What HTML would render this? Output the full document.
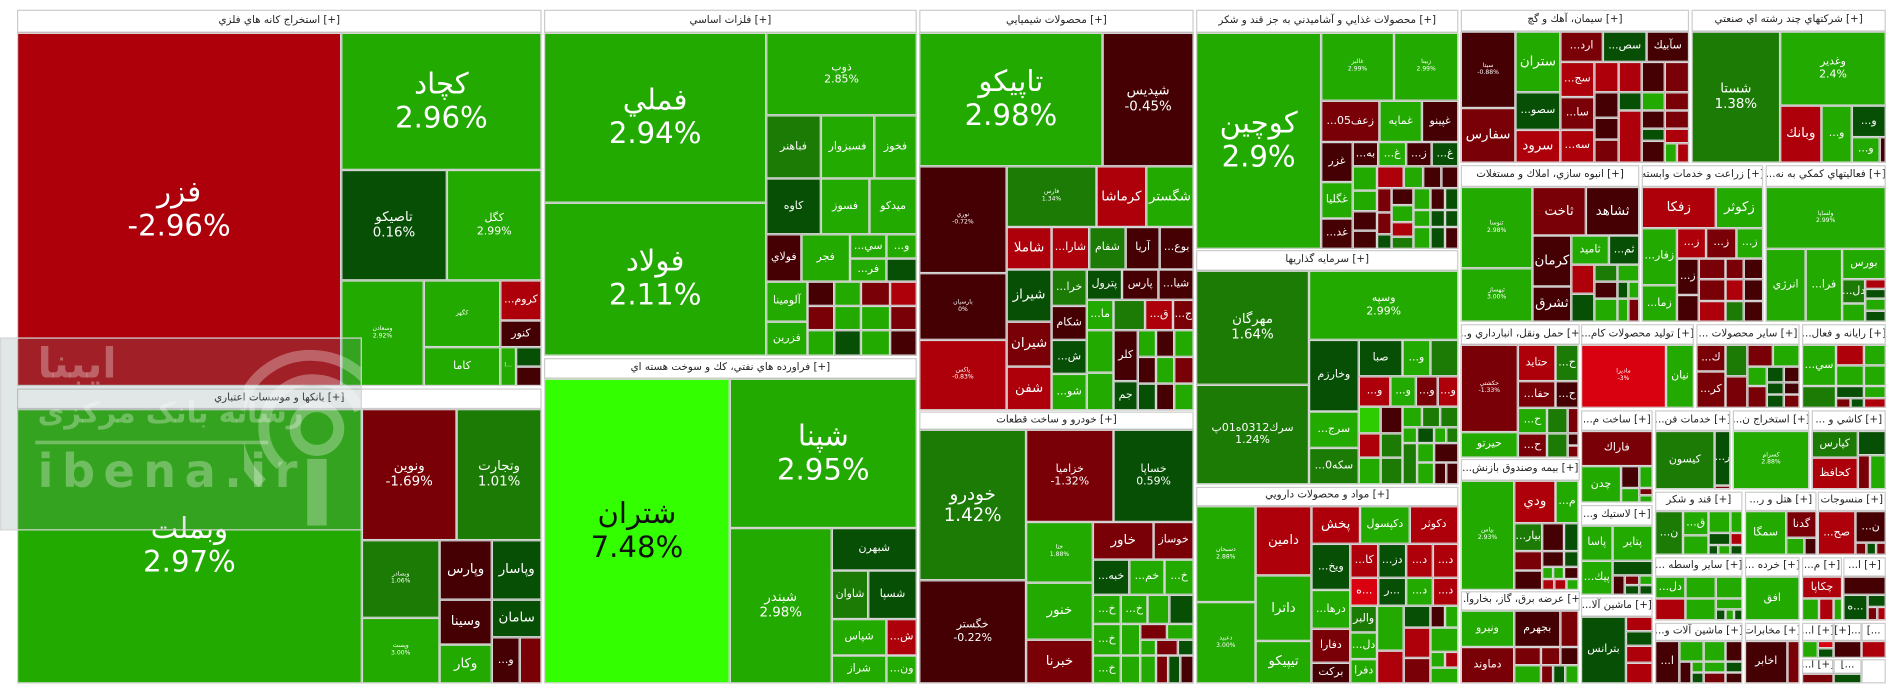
<!DOCTYPE html>
<html><head><meta charset="utf-8"><style>
html,body{margin:0;padding:0;background:#fff;width:1904px;height:698px;overflow:hidden}
#w{position:absolute;left:0;top:0;width:1568px;height:575px;transform:scale(1.21429,1.2139);transform-origin:0 0;font-family:"DejaVu Sans","Liberation Sans",sans-serif}
#w div{position:absolute;box-sizing:border-box;border:1px solid #d6d6d6;color:#fff;display:flex;align-items:center;justify-content:center;text-align:center;overflow:hidden;white-space:nowrap;line-height:1.15;font-size:7px}
#w div.h{background:#fff;color:#222;font-size:8.5px;border-color:#ccc}
.G{background:#22aa00}.M{background:#1b7b04}.D{background:#064f04}.R{background:#ad000a}.E{background:#7a0007}.K{background:#440003}.L{background:#33ff00}.P{background:#d9000f}.N{background:#2dcc00}
#w div.x1{font-size:24px}#w div.x2{font-size:15px}#w div.x3{font-size:11px}#w div.x4{font-size:9px}#w div.x5{font-size:5px}
#wm{position:absolute;left:0;top:278px;width:298px;height:159px;background:rgba(120,140,140,0.22);pointer-events:none}
#wm span{position:absolute;color:rgba(255,255,255,0.3);font-weight:bold;white-space:nowrap}
</style></head><body><div id="w">
<div class="h" style="left:14px;top:8px;width:432px;height:19px">استخراج کانه هاي فلزي [+]</div>
<div class="R x1" style="left:14px;top:27px;width:267px;height:291px">فزر<br>-2.96%</div>
<div class="G x1" style="left:281px;top:27px;width:165px;height:113px">کچاد<br>2.96%</div>
<div class="D x3" style="left:281px;top:140px;width:87px;height:91px">تاصیکو<br>0.16%</div>
<div class="G x4" style="left:368px;top:140px;width:78px;height:91px">کگل<br>2.99%</div>
<div class="G x5" style="left:281px;top:231px;width:68px;height:87px">وسعادن<br>2.92%</div>
<div class="G x5" style="left:349px;top:231px;width:63px;height:55px">کگهر</div>
<div class="R x4" style="left:412px;top:231px;width:34px;height:33px">...کروم</div>
<div class="K x4" style="left:412px;top:264px;width:34px;height:22px">کنور</div>
<div class="G x4" style="left:349px;top:286px;width:63px;height:32px">کاما</div>
<div class="G x5" style="left:412px;top:286px;width:13px;height:32px">ا...</div>
<div class="D" style="left:425px;top:286px;width:21px;height:16px"></div>
<div class="K" style="left:425px;top:302px;width:21px;height:16px"></div>
<div class="h" style="left:14px;top:320px;width:432px;height:17px">بانکها و موسسات اعتباري [+]</div>
<div class="G x1" style="left:14px;top:337px;width:284px;height:226px">وبملت<br>2.97%</div>
<div class="E x3" style="left:298px;top:337px;width:78px;height:108px">ونوین<br>-1.69%</div>
<div class="M x3" style="left:376px;top:337px;width:70px;height:108px">وتجارت<br>1.01%</div>
<div class="M x5" style="left:298px;top:445px;width:64px;height:64px">وبصادر<br>1.06%</div>
<div class="G x5" style="left:298px;top:509px;width:64px;height:54px">وپست<br>3.00%</div>
<div class="K x3" style="left:362px;top:445px;width:43px;height:49px">وپارس</div>
<div class="D x3" style="left:405px;top:445px;width:41px;height:49px">وپاسار</div>
<div class="K x3" style="left:362px;top:494px;width:43px;height:37px">وسینا</div>
<div class="D x3" style="left:405px;top:494px;width:41px;height:31px">سامان</div>
<div class="G x3" style="left:362px;top:531px;width:43px;height:32px">وکار</div>
<div class="K x4" style="left:405px;top:525px;width:23px;height:38px">...و</div>
<div class="E" style="left:428px;top:525px;width:18px;height:38px"></div>

<div class="h" style="left:448px;top:8px;width:307px;height:19px">فلزات اساسي [+]</div>
<div class="G x1" style="left:448px;top:27px;width:183px;height:140px">فملي<br>2.94%</div>
<div class="G x1" style="left:448px;top:167px;width:183px;height:126px">فولاد<br>2.11%</div>
<div class="G x4" style="left:631px;top:27px;width:124px;height:68px">ذوب<br>2.85%</div>
<div class="M x4" style="left:631px;top:95px;width:45px;height:52px">فباهنر</div>
<div class="G x4" style="left:676px;top:95px;width:44px;height:52px">فسبزوار</div>
<div class="G x4" style="left:720px;top:95px;width:35px;height:52px">فخوز</div>
<div class="D x4" style="left:631px;top:147px;width:45px;height:46px">کاوه</div>
<div class="G x4" style="left:676px;top:147px;width:40px;height:46px">فسوز</div>
<div class="G x4" style="left:716px;top:147px;width:39px;height:46px">میدکو</div>
<div class="K x4" style="left:631px;top:193px;width:29px;height:39px">فولاي</div>
<div class="G x4" style="left:660px;top:193px;width:40px;height:39px">فجر</div>
<div class="G x4" style="left:700px;top:193px;width:30px;height:20px">...سي</div>
<div class="G x4" style="left:730px;top:193px;width:25px;height:20px">...و</div>
<div class="G x4" style="left:700px;top:213px;width:30px;height:19px">...فر</div>
<div class="D" style="left:730px;top:213px;width:25px;height:19px"></div>
<div class="G x4" style="left:631px;top:232px;width:34px;height:33px">آلومينا</div>
<div class="G x4" style="left:631px;top:265px;width:34px;height:28px">فزرين</div>
<div class="K" style="left:665px;top:232px;width:22px;height:20px"></div><div class="G" style="left:687px;top:232px;width:22px;height:20px"></div><div class="E" style="left:709px;top:232px;width:24px;height:20px"></div><div class="R" style="left:733px;top:232px;width:22px;height:20px"></div>
<div class="E" style="left:665px;top:252px;width:22px;height:20px"></div><div class="G" style="left:687px;top:252px;width:22px;height:20px"></div><div class="G" style="left:709px;top:252px;width:24px;height:20px"></div><div class="E" style="left:733px;top:252px;width:22px;height:20px"></div>
<div class="G" style="left:665px;top:272px;width:22px;height:21px"></div><div class="D" style="left:687px;top:272px;width:22px;height:21px"></div><div class="G" style="left:709px;top:272px;width:24px;height:21px"></div><div class="K" style="left:733px;top:272px;width:22px;height:21px"></div>

<div class="h" style="left:448px;top:295px;width:307px;height:17px">فراورده هاي نفتي، كك و سوخت هسته اي [+]</div>
<div class="L x1" style="left:448px;top:312px;width:153px;height:251px;color:#111">شتران<br>7.48%</div>
<div class="G x1" style="left:601px;top:312px;width:154px;height:123px">شپنا<br>2.95%</div>
<div class="G x3" style="left:601px;top:435px;width:84px;height:128px">شبندر<br>2.98%</div>
<div class="D x4" style="left:685px;top:435px;width:70px;height:35px">شبهرن</div>
<div class="M x4" style="left:685px;top:470px;width:30px;height:40px">شاوان</div>
<div class="D x4" style="left:715px;top:470px;width:40px;height:40px">شسپا</div>
<div class="G x4" style="left:685px;top:510px;width:45px;height:30px">شپاس</div>
<div class="G x4" style="left:685px;top:540px;width:45px;height:23px">شراز</div>
<div class="R x4" style="left:730px;top:510px;width:25px;height:30px">...ش</div>
<div class="G x4" style="left:730px;top:540px;width:25px;height:23px">...ون</div>

<div class="h" style="left:757px;top:8px;width:226px;height:19px">محصولات شيميايي [+]</div>
<div class="G x1" style="left:757px;top:27px;width:151px;height:110px">تاپیکو<br>2.98%</div>
<div class="K x3" style="left:908px;top:27px;width:75px;height:110px">شپدیس<br>-0.45%</div>
<div class="K x5" style="left:757px;top:137px;width:72px;height:88px">نوري<br>-0.72%</div>
<div class="K x5" style="left:757px;top:225px;width:72px;height:55px">بارسيان<br>0%</div>
<div class="R x5" style="left:757px;top:280px;width:72px;height:58px">پاکس<br>-0.83%</div>
<div class="M x5" style="left:829px;top:137px;width:74px;height:50px">فارس<br>1.34%</div>
<div class="R x3" style="left:903px;top:137px;width:41px;height:50px">کرماشا</div>
<div class="G x3" style="left:944px;top:137px;width:39px;height:50px">شگستر</div>
<div class="R x3" style="left:829px;top:187px;width:37px;height:35px">شاملا</div>
<div class="R x4" style="left:866px;top:187px;width:31px;height:35px">...شارا</div>
<div class="M x4" style="left:897px;top:187px;width:30px;height:35px">شفام</div>
<div class="K x4" style="left:927px;top:187px;width:28px;height:35px">آريا</div>
<div class="K x4" style="left:955px;top:187px;width:28px;height:35px">...بوع</div>
<div class="D x3" style="left:829px;top:222px;width:37px;height:43px">شيراز</div>
<div class="M x4" style="left:866px;top:222px;width:29px;height:30px">...خرا</div>
<div class="D x4" style="left:895px;top:222px;width:29px;height:25px">پترول</div>
<div class="K x4" style="left:924px;top:222px;width:30px;height:25px">پارس</div>
<div class="K x4" style="left:954px;top:222px;width:29px;height:25px">...شيا</div>
<div class="K x4" style="left:866px;top:252px;width:29px;height:28px">شكام</div>
<div class="G x4" style="left:895px;top:247px;width:22px;height:25px">...ما</div>
<div class="M" style="left:917px;top:247px;width:26px;height:25px"></div>
<div class="R x4" style="left:943px;top:247px;width:23px;height:25px">...ق</div>
<div class="E x4" style="left:966px;top:247px;width:17px;height:25px">...ج</div>
<div class="E x3" style="left:829px;top:265px;width:37px;height:37px">شيران</div>
<div class="R x3" style="left:829px;top:302px;width:37px;height:36px">شفن</div>
<div class="D x4" style="left:866px;top:280px;width:29px;height:28px">...ش</div>
<div class="G x4" style="left:866px;top:308px;width:29px;height:30px">...شو</div>
<div class="G" style="left:895px;top:272px;width:22px;height:35px"></div><div class="G" style="left:895px;top:307px;width:22px;height:31px"></div>
<div class="K x4" style="left:917px;top:272px;width:20px;height:42px">كلر</div>
<div class="D x4" style="left:917px;top:314px;width:20px;height:24px">جم</div>
<div class="G" style="left:937px;top:272px;width:15px;height:22px"></div><div class="K" style="left:952px;top:272px;width:15px;height:22px"></div><div class="G" style="left:967px;top:272px;width:16px;height:22px"></div>
<div class="K" style="left:937px;top:294px;width:15px;height:22px"></div><div class="G" style="left:952px;top:294px;width:15px;height:22px"></div><div class="E" style="left:967px;top:294px;width:16px;height:22px"></div>
<div class="D" style="left:937px;top:316px;width:15px;height:22px"></div><div class="K" style="left:952px;top:316px;width:15px;height:22px"></div><div class="G" style="left:967px;top:316px;width:16px;height:22px"></div>

<div class="h" style="left:757px;top:339px;width:226px;height:15px">خودرو و ساخت قطعات [+]</div>
<div class="M x2" style="left:757px;top:354px;width:88px;height:124px">خودرو<br>1.42%</div>
<div class="K x4" style="left:757px;top:478px;width:88px;height:85px">خگستر<br>-0.22%</div>
<div class="E x4" style="left:845px;top:354px;width:72px;height:76px">خزامیا<br>-1.32%</div>
<div class="D x4" style="left:917px;top:354px;width:66px;height:76px">خساپا<br>0.59%</div>
<div class="G x5" style="left:845px;top:430px;width:55px;height:50px">ختا<br>1.88%</div>
<div class="G x3" style="left:845px;top:480px;width:55px;height:47px">خنور</div>
<div class="E x3" style="left:845px;top:527px;width:55px;height:36px">خبرنا</div>
<div class="E x3" style="left:900px;top:430px;width:50px;height:31px">خاور</div>
<div class="E x4" style="left:950px;top:430px;width:33px;height:31px">خوساز</div>
<div class="D x4" style="left:900px;top:461px;width:30px;height:29px">...خبه</div>
<div class="G x4" style="left:930px;top:461px;width:29px;height:29px">...خم</div>
<div class="G x4" style="left:959px;top:461px;width:24px;height:29px">...خ</div>
<div class="G x4" style="left:900px;top:490px;width:23px;height:24px">...خ</div><div class="G x4" style="left:923px;top:490px;width:22px;height:24px">...خ</div><div class="G" style="left:945px;top:490px;width:18px;height:24px"></div><div class="D" style="left:963px;top:490px;width:20px;height:24px"></div>
<div class="G x4" style="left:900px;top:514px;width:23px;height:26px">...خ</div><div class="G" style="left:923px;top:514px;width:16px;height:26px"></div><div class="E" style="left:939px;top:514px;width:22px;height:13px"></div><div class="G" style="left:961px;top:514px;width:22px;height:13px"></div>
<div class="G" style="left:939px;top:527px;width:13px;height:13px"></div><div class="E" style="left:952px;top:527px;width:18px;height:13px"></div><div class="D" style="left:970px;top:527px;width:13px;height:13px"></div>
<div class="G x4" style="left:900px;top:540px;width:23px;height:23px">...خ</div><div class="G" style="left:923px;top:540px;width:16px;height:23px"></div><div class="G" style="left:939px;top:540px;width:13px;height:23px"></div><div class="E" style="left:952px;top:540px;width:10px;height:23px"></div><div class="D" style="left:962px;top:540px;width:10px;height:23px"></div><div class="K" style="left:972px;top:540px;width:11px;height:23px"></div>

<div class="h" style="left:985px;top:8px;width:216px;height:19px">محصولات غذايي و آشاميدني به جز قند و شكر [+]</div>
<div class="G x1" style="left:985px;top:27px;width:103px;height:178px">کوچین<br>2.9%</div>
<div class="G x5" style="left:1088px;top:27px;width:60px;height:56px">غالبر<br>2.99%</div>
<div class="G x5" style="left:1148px;top:27px;width:53px;height:56px">زبينا<br>2.99%</div>
<div class="E x4" style="left:1088px;top:83px;width:48px;height:34px">...زعف05</div>
<div class="G x4" style="left:1136px;top:83px;width:35px;height:34px">غمايه</div>
<div class="K x4" style="left:1171px;top:83px;width:30px;height:34px">غپينو</div>
<div class="K x4" style="left:1088px;top:117px;width:26px;height:33px">غزر</div>
<div class="K x4" style="left:1114px;top:117px;width:21px;height:20px">...به</div>
<div class="G x4" style="left:1135px;top:117px;width:23px;height:20px">...غ</div>
<div class="K x4" style="left:1158px;top:117px;width:21px;height:20px">...ز</div>
<div class="D x4" style="left:1179px;top:117px;width:22px;height:20px">...غ</div>
<div class="G x4" style="left:1088px;top:150px;width:26px;height:30px">غگليا</div>
<div class="K x4" style="left:1088px;top:180px;width:26px;height:25px">...غد</div>
<div class="G" style="left:1114px;top:137px;width:20px;height:20px"></div><div class="R" style="left:1134px;top:137px;width:22px;height:18px"></div><div class="G" style="left:1156px;top:137px;width:16px;height:18px"></div><div class="K" style="left:1172px;top:137px;width:15px;height:18px"></div><div class="K" style="left:1187px;top:137px;width:14px;height:18px"></div>
<div class="G" style="left:1114px;top:157px;width:20px;height:17px"></div><div class="E" style="left:1134px;top:155px;width:12px;height:20px"></div><div class="K" style="left:1146px;top:155px;width:18px;height:14px"></div><div class="G" style="left:1164px;top:155px;width:14px;height:18px"></div><div class="K" style="left:1178px;top:155px;width:12px;height:18px"></div><div class="D" style="left:1190px;top:155px;width:11px;height:18px"></div>
<div class="K" style="left:1114px;top:174px;width:20px;height:16px"></div><div class="E" style="left:1134px;top:175px;width:12px;height:18px"></div><div class="G" style="left:1146px;top:169px;width:18px;height:14px"></div><div class="G" style="left:1164px;top:173px;width:14px;height:14px"></div><div class="D" style="left:1178px;top:173px;width:12px;height:14px"></div><div class="D" style="left:1190px;top:173px;width:11px;height:14px"></div>
<div class="K" style="left:1114px;top:190px;width:20px;height:15px"></div><div class="D" style="left:1134px;top:193px;width:12px;height:12px"></div><div class="R" style="left:1146px;top:183px;width:18px;height:12px"></div><div class="M" style="left:1146px;top:195px;width:18px;height:10px"></div><div class="G" style="left:1164px;top:187px;width:14px;height:18px"></div><div class="D" style="left:1178px;top:187px;width:12px;height:18px"></div><div class="K" style="left:1190px;top:187px;width:11px;height:18px"></div>

<div class="h" style="left:985px;top:206px;width:216px;height:17px">سرمايه گذاريها [+]</div>
<div class="M x3" style="left:985px;top:223px;width:93px;height:94px">مهرگان<br>1.64%</div>
<div class="M x4" style="left:985px;top:317px;width:93px;height:82px">سرك0312ه01پ<br>1.24%</div>
<div class="G x4" style="left:1078px;top:223px;width:123px;height:57px">وسپه<br>2.99%</div>
<div class="D x4" style="left:1078px;top:280px;width:41px;height:59px">وخارزم</div>
<div class="D x4" style="left:1119px;top:280px;width:36px;height:30px">صبا</div>
<div class="G x4" style="left:1155px;top:280px;width:23px;height:30px">...و</div>
<div class="M" style="left:1178px;top:280px;width:23px;height:30px"></div>
<div class="R x4" style="left:1119px;top:310px;width:26px;height:25px">...و</div><div class="G x4" style="left:1145px;top:310px;width:21px;height:25px">...و</div><div class="E x4" style="left:1166px;top:310px;width:18px;height:25px">...و</div><div class="R x4" style="left:1184px;top:310px;width:17px;height:25px">...و</div>
<div class="G x4" style="left:1078px;top:339px;width:41px;height:30px">...سرج</div>
<div class="M x4" style="left:1078px;top:369px;width:41px;height:30px">...سكه0</div>
<div class="N" style="left:1119px;top:335px;width:18px;height:22px"></div><div class="K" style="left:1137px;top:335px;width:18px;height:22px"></div><div class="G" style="left:1155px;top:335px;width:16px;height:17px"></div><div class="M" style="left:1171px;top:335px;width:15px;height:17px"></div><div class="M" style="left:1186px;top:335px;width:15px;height:17px"></div>
<div class="R" style="left:1119px;top:357px;width:18px;height:20px"></div><div class="M" style="left:1137px;top:357px;width:18px;height:20px"></div><div class="G" style="left:1155px;top:352px;width:12px;height:13px"></div><div class="D" style="left:1167px;top:352px;width:14px;height:13px"></div><div class="G" style="left:1181px;top:352px;width:10px;height:13px"></div><div class="M" style="left:1191px;top:352px;width:10px;height:13px"></div>
<div class="G" style="left:1119px;top:377px;width:18px;height:22px"></div><div class="M" style="left:1137px;top:377px;width:18px;height:22px"></div><div class="M" style="left:1155px;top:365px;width:12px;height:34px"></div><div class="G" style="left:1167px;top:365px;width:14px;height:16px"></div><div class="K" style="left:1181px;top:365px;width:20px;height:16px"></div><div class="G" style="left:1167px;top:381px;width:14px;height:18px"></div><div class="K" style="left:1181px;top:381px;width:10px;height:18px"></div><div class="K" style="left:1191px;top:381px;width:10px;height:18px"></div>

<div class="h" style="left:985px;top:401px;width:216px;height:16px">مواد و محصولات دارويي [+]</div>
<div class="G x5" style="left:985px;top:417px;width:49px;height:79px">دسبحان<br>2.88%</div>
<div class="G x5" style="left:985px;top:496px;width:49px;height:67px">دعبيد<br>3.00%</div>
<div class="R x3" style="left:1034px;top:417px;width:46px;height:57px">دامين</div>
<div class="G x3" style="left:1034px;top:474px;width:46px;height:54px">داترا</div>
<div class="G x3" style="left:1034px;top:528px;width:46px;height:35px">تيپيكو</div>
<div class="R x3" style="left:1080px;top:417px;width:40px;height:31px">پخش</div>
<div class="G x4" style="left:1120px;top:417px;width:41px;height:31px">دكپسول</div>
<div class="R x4" style="left:1161px;top:417px;width:40px;height:31px">دكوثر</div>
<div class="D x4" style="left:1080px;top:448px;width:32px;height:38px">...ويخ</div>
<div class="R x4" style="left:1112px;top:448px;width:23px;height:28px">...كا</div><div class="D x4" style="left:1135px;top:448px;width:23px;height:28px">...دز</div><div class="R x4" style="left:1158px;top:448px;width:22px;height:28px">...د</div><div class="R x4" style="left:1180px;top:448px;width:21px;height:28px">...د</div>
<div class="P x4" style="left:1112px;top:476px;width:23px;height:23px">ه...</div><div class="D x4" style="left:1135px;top:476px;width:23px;height:23px">ر...</div><div class="G x4" style="left:1158px;top:476px;width:22px;height:23px">...د</div><div class="R x4" style="left:1180px;top:476px;width:21px;height:23px">...د</div>
<div class="G x4" style="left:1080px;top:486px;width:32px;height:32px">...درها</div>
<div class="E x4" style="left:1080px;top:518px;width:32px;height:28px">دفارا</div>
<div class="K x4" style="left:1080px;top:546px;width:32px;height:17px">بركت</div>
<div class="M x4" style="left:1112px;top:499px;width:22px;height:22px">والبر</div>
<div class="G x4" style="left:1112px;top:521px;width:22px;height:22px">...دل</div>
<div class="G x4" style="left:1112px;top:543px;width:22px;height:20px">دفرا</div>
<div class="G" style="left:1134px;top:499px;width:22px;height:37px"></div><div class="D" style="left:1156px;top:499px;width:22px;height:18px"></div><div class="K" style="left:1178px;top:499px;width:12px;height:18px"></div><div class="G" style="left:1190px;top:499px;width:11px;height:18px"></div>
<div class="R" style="left:1156px;top:517px;width:22px;height:25px"></div><div class="G" style="left:1178px;top:517px;width:23px;height:20px"></div><div class="R" style="left:1134px;top:536px;width:22px;height:27px"></div><div class="E" style="left:1156px;top:542px;width:22px;height:21px"></div><div class="G" style="left:1178px;top:537px;width:12px;height:13px"></div><div class="R" style="left:1190px;top:537px;width:11px;height:13px"></div><div class="G" style="left:1178px;top:550px;width:23px;height:13px"></div>

<!-- right region -->
<div class="h" style="left:1203px;top:8px;width:188px;height:18px">سيمان، آهك و گچ [+]</div>
<div class="K x5" style="left:1203px;top:26px;width:45px;height:63px">سيتا<br>-0.88%</div>
<div class="E x3" style="left:1203px;top:89px;width:45px;height:45px">سفارس</div>
<div class="G x3" style="left:1248px;top:26px;width:37px;height:50px">ستران</div>
<div class="D x4" style="left:1248px;top:76px;width:37px;height:31px">...سصو</div>
<div class="R x3" style="left:1248px;top:107px;width:37px;height:27px">سرود</div>
<div class="E x4" style="left:1285px;top:26px;width:35px;height:25px">...ارد</div>
<div class="D x4" style="left:1320px;top:26px;width:36px;height:25px">...سص</div>
<div class="K x4" style="left:1356px;top:26px;width:35px;height:25px">سآبيك</div>
<div class="R x4" style="left:1285px;top:51px;width:28px;height:29px">...سج</div>
<div class="E x4" style="left:1285px;top:80px;width:28px;height:27px">...سا</div>
<div class="R x4" style="left:1285px;top:107px;width:28px;height:27px">...سه</div>
<div class="R" style="left:1313px;top:51px;width:20px;height:25px"></div><div class="R" style="left:1333px;top:51px;width:19px;height:25px"></div><div class="K" style="left:1352px;top:51px;width:19px;height:25px"></div><div class="E" style="left:1371px;top:51px;width:20px;height:25px"></div>
<div class="K" style="left:1313px;top:76px;width:20px;height:21px"></div><div class="D" style="left:1333px;top:76px;width:19px;height:15px"></div><div class="G" style="left:1352px;top:76px;width:19px;height:15px"></div><div class="E" style="left:1371px;top:76px;width:20px;height:15px"></div>
<div class="K" style="left:1313px;top:97px;width:20px;height:18px"></div><div class="R" style="left:1333px;top:91px;width:19px;height:43px"></div><div class="K" style="left:1352px;top:91px;width:19px;height:15px"></div><div class="E" style="left:1371px;top:91px;width:20px;height:15px"></div>
<div class="E" style="left:1313px;top:115px;width:20px;height:19px"></div><div class="D" style="left:1352px;top:106px;width:19px;height:10px"></div><div class="K" style="left:1352px;top:116px;width:19px;height:18px"></div><div class="R" style="left:1371px;top:106px;width:20px;height:12px"></div><div class="G" style="left:1371px;top:118px;width:10px;height:16px"></div><div class="R" style="left:1381px;top:118px;width:10px;height:16px"></div>

<div class="h" style="left:1393px;top:8px;width:160px;height:18px">شركتهاي چند رشته اي صنعتي [+]</div>
<div class="M x3" style="left:1393px;top:26px;width:73px;height:108px">شستا<br>1.38%</div>
<div class="G x4" style="left:1466px;top:26px;width:87px;height:61px">وغدير<br>2.4%</div>
<div class="R x3" style="left:1466px;top:87px;width:34px;height:47px">وبانك</div>
<div class="G x4" style="left:1500px;top:87px;width:25px;height:47px">...و</div>
<div class="D x4" style="left:1525px;top:87px;width:28px;height:26px">...و</div>
<div class="G x4" style="left:1525px;top:113px;width:23px;height:21px">...و</div>
<div class="K" style="left:1548px;top:113px;width:5px;height:21px"></div>

<div class="h" style="left:1203px;top:136px;width:147px;height:18px">انبوه سازي، املاك و مستغلات [+]</div>
<div class="G x5" style="left:1203px;top:154px;width:59px;height:67px">ثنوسا<br>2.98%</div>
<div class="G x5" style="left:1203px;top:221px;width:59px;height:44px">ثبهساز<br>3.00%</div>
<div class="E x3" style="left:1262px;top:154px;width:44px;height:40px">ثاخت</div>
<div class="K x3" style="left:1306px;top:154px;width:44px;height:40px">ثشاهد</div>
<div class="K x3" style="left:1262px;top:194px;width:32px;height:42px">كرمان</div>
<div class="K x3" style="left:1262px;top:236px;width:32px;height:29px">ثشرق</div>
<div class="G x4" style="left:1294px;top:194px;width:31px;height:24px">ثاميد</div>
<div class="D x4" style="left:1325px;top:194px;width:25px;height:24px">...ثم</div>
<div class="R" style="left:1294px;top:218px;width:19px;height:24px"></div><div class="M" style="left:1313px;top:218px;width:19px;height:14px"></div><div class="G" style="left:1332px;top:218px;width:18px;height:14px"></div><div class="K" style="left:1313px;top:232px;width:19px;height:14px"></div><div class="D" style="left:1332px;top:232px;width:9px;height:14px"></div><div class="G" style="left:1341px;top:232px;width:9px;height:14px"></div><div class="D" style="left:1294px;top:242px;width:19px;height:23px"></div><div class="G" style="left:1313px;top:246px;width:19px;height:19px"></div><div class="G" style="left:1332px;top:246px;width:9px;height:19px"></div><div class="E" style="left:1341px;top:246px;width:9px;height:19px"></div>

<div class="h" style="left:1352px;top:136px;width:100px;height:18px">زراعت و خدمات وابسته [+]</div>
<div class="R x3" style="left:1352px;top:154px;width:61px;height:34px">زفكا</div>
<div class="G x3" style="left:1413px;top:154px;width:39px;height:34px">زكوثر</div>
<div class="G x4" style="left:1352px;top:188px;width:29px;height:47px">...زفار</div>
<div class="G x4" style="left:1352px;top:235px;width:29px;height:30px">...زما</div>
<div class="R x4" style="left:1381px;top:188px;width:24px;height:25px">...ز</div><div class="E x4" style="left:1405px;top:188px;width:25px;height:25px">...ز</div><div class="G x4" style="left:1430px;top:188px;width:22px;height:25px">...ز</div>
<div class="K x4" style="left:1381px;top:213px;width:18px;height:30px">...ز</div><div class="E" style="left:1399px;top:213px;width:22px;height:17px"></div><div class="E" style="left:1421px;top:213px;width:15px;height:17px"></div><div class="K" style="left:1436px;top:213px;width:16px;height:17px"></div>
<div class="E" style="left:1399px;top:230px;width:22px;height:18px"></div><div class="R" style="left:1421px;top:230px;width:15px;height:18px"></div><div class="K" style="left:1436px;top:230px;width:16px;height:18px"></div>
<div class="K" style="left:1381px;top:243px;width:18px;height:22px"></div><div class="R" style="left:1399px;top:248px;width:22px;height:17px"></div><div class="M" style="left:1421px;top:248px;width:15px;height:17px"></div><div class="K" style="left:1436px;top:248px;width:16px;height:17px"></div>

<div class="h" style="left:1454px;top:136px;width:99px;height:18px">...فعاليتهاي كمكي به نه [+]</div>
<div class="G x5" style="left:1454px;top:154px;width:99px;height:51px">ولساپا<br>2.99%</div>
<div class="G x4" style="left:1454px;top:205px;width:33px;height:60px">انرژي</div>
<div class="G x4" style="left:1487px;top:205px;width:30px;height:60px">...فرا</div>
<div class="G x4" style="left:1517px;top:205px;width:36px;height:25px">بورس</div>
<div class="M x4" style="left:1517px;top:230px;width:19px;height:20px">...دل</div>
<div class="R" style="left:1536px;top:230px;width:17px;height:8px"></div><div class="D" style="left:1536px;top:238px;width:17px;height:8px"></div><div class="G" style="left:1536px;top:246px;width:17px;height:10px"></div><div class="G" style="left:1517px;top:250px;width:19px;height:15px"></div><div class="D" style="left:1536px;top:256px;width:17px;height:9px"></div>

<div class="h" style="left:1203px;top:267px;width:98px;height:17px">...حمل ونقل، انبارداري و [+]</div>
<div class="E x5" style="left:1203px;top:284px;width:47px;height:72px">حكشتي<br>-1.33%</div>
<div class="G x4" style="left:1203px;top:356px;width:47px;height:21px">حيرتو</div>
<div class="R x4" style="left:1250px;top:284px;width:31px;height:30px">حتايد</div>
<div class="M x4" style="left:1281px;top:284px;width:19px;height:30px">...ح</div>
<div class="E x4" style="left:1250px;top:314px;width:31px;height:22px">...حفا</div>
<div class="K x4" style="left:1281px;top:314px;width:19px;height:22px">...ح</div>
<div class="G x4" style="left:1250px;top:336px;width:24px;height:21px">...ح</div><div class="M" style="left:1274px;top:336px;width:17px;height:21px"></div><div class="E" style="left:1291px;top:336px;width:9px;height:21px"></div>
<div class="E x4" style="left:1250px;top:357px;width:24px;height:20px">...ح</div><div class="M" style="left:1274px;top:357px;width:17px;height:20px"></div><div class="K" style="left:1291px;top:357px;width:9px;height:10px"></div><div class="E" style="left:1291px;top:367px;width:9px;height:10px"></div>

<div class="h" style="left:1302px;top:267px;width:93px;height:17px">...توليد محصولات كام [+]</div>
<div class="P x5" style="left:1302px;top:284px;width:70px;height:52px">ماديرا<br>-3%</div>
<div class="G x4" style="left:1372px;top:284px;width:23px;height:52px">نيان</div>

<div class="h" style="left:1397px;top:267px;width:85px;height:17px">... ساير محصولات [+]</div>
<div class="E x4" style="left:1397px;top:284px;width:24px;height:22px">...ك</div>
<div class="E x4" style="left:1397px;top:306px;width:24px;height:30px">...كر</div>
<div class="M" style="left:1421px;top:284px;width:18px;height:26px"></div><div class="E" style="left:1439px;top:284px;width:21px;height:18px"></div><div class="G" style="left:1460px;top:284px;width:22px;height:18px"></div>
<div class="E" style="left:1421px;top:310px;width:18px;height:26px"></div><div class="G" style="left:1439px;top:302px;width:16px;height:16px"></div><div class="D" style="left:1455px;top:302px;width:14px;height:13px"></div><div class="K" style="left:1469px;top:302px;width:13px;height:13px"></div>
<div class="E" style="left:1439px;top:318px;width:16px;height:18px"></div><div class="D" style="left:1455px;top:315px;width:14px;height:10px"></div><div class="D" style="left:1455px;top:325px;width:14px;height:11px"></div><div class="K" style="left:1469px;top:315px;width:13px;height:10px"></div><div class="E" style="left:1469px;top:325px;width:13px;height:11px"></div>

<div class="h" style="left:1484px;top:267px;width:69px;height:17px">...رايانه و فعال [+]</div>
<div class="G x4" style="left:1484px;top:284px;width:28px;height:34px">...سي</div>
<div class="R" style="left:1512px;top:284px;width:23px;height:17px"></div><div class="G" style="left:1535px;top:284px;width:18px;height:17px"></div><div class="G" style="left:1512px;top:301px;width:23px;height:17px"></div><div class="G" style="left:1535px;top:301px;width:18px;height:17px"></div>
<div class="M" style="left:1484px;top:318px;width:28px;height:18px"></div><div class="D" style="left:1512px;top:318px;width:23px;height:10px"></div><div class="G" style="left:1535px;top:318px;width:18px;height:10px"></div><div class="E" style="left:1512px;top:328px;width:12px;height:8px"></div><div class="D" style="left:1524px;top:328px;width:11px;height:8px"></div><div class="R" style="left:1535px;top:328px;width:18px;height:8px"></div>

<div class="h" style="left:1203px;top:378px;width:98px;height:18px">...بيمه وصندوق بازنش [+]</div>
<div class="G x5" style="left:1203px;top:396px;width:44px;height:90px">بپاس<br>2.93%</div>
<div class="R x3" style="left:1247px;top:396px;width:34px;height:35px">ودي</div>
<div class="G x4" style="left:1281px;top:396px;width:19px;height:35px">...م</div>
<div class="M x4" style="left:1247px;top:431px;width:23px;height:23px">...بيار</div>
<div class="K" style="left:1270px;top:431px;width:18px;height:23px"></div><div class="D" style="left:1288px;top:431px;width:12px;height:23px"></div>
<div class="E" style="left:1247px;top:454px;width:23px;height:16px"></div><div class="K" style="left:1270px;top:454px;width:18px;height:13px"></div><div class="D" style="left:1288px;top:454px;width:12px;height:13px"></div>
<div class="K" style="left:1247px;top:470px;width:23px;height:16px"></div><div class="G" style="left:1270px;top:467px;width:9px;height:10px"></div><div class="G" style="left:1279px;top:467px;width:9px;height:10px"></div><div class="K" style="left:1288px;top:467px;width:12px;height:10px"></div><div class="R" style="left:1270px;top:477px;width:10px;height:9px"></div><div class="R" style="left:1280px;top:477px;width:10px;height:9px"></div><div class="G" style="left:1290px;top:477px;width:10px;height:9px"></div>

<div class="h" style="left:1203px;top:487px;width:98px;height:16px">...عرضه برق، گاز، بخاروآ [+]</div>
<div class="G x4" style="left:1203px;top:503px;width:44px;height:30px">ونيرو</div>
<div class="E x4" style="left:1203px;top:533px;width:44px;height:30px">دماوند</div>
<div class="K x4" style="left:1247px;top:503px;width:38px;height:30px">بجهرم</div>
<div class="E" style="left:1285px;top:503px;width:15px;height:30px"></div>
<div class="E" style="left:1247px;top:533px;width:22px;height:15px"></div><div class="E" style="left:1269px;top:533px;width:16px;height:15px"></div><div class="K" style="left:1285px;top:533px;width:15px;height:15px"></div>
<div class="G" style="left:1247px;top:548px;width:22px;height:15px"></div><div class="E" style="left:1269px;top:548px;width:10px;height:15px"></div><div class="D" style="left:1279px;top:548px;width:10px;height:15px"></div><div class="G" style="left:1289px;top:548px;width:11px;height:15px"></div>

<div class="h" style="left:1302px;top:338px;width:59px;height:17px">...ساخت م [+]</div>
<div class="E x4" style="left:1302px;top:355px;width:59px;height:29px">فاراك</div>
<div class="G x4" style="left:1302px;top:384px;width:33px;height:30px">چدن</div>
<div class="K" style="left:1335px;top:384px;width:15px;height:18px"></div><div class="G" style="left:1350px;top:384px;width:11px;height:18px"></div><div class="G" style="left:1335px;top:402px;width:15px;height:12px"></div><div class="E" style="left:1350px;top:402px;width:11px;height:6px"></div><div class="G" style="left:1350px;top:408px;width:11px;height:6px"></div>
<div class="h" style="left:1302px;top:416px;width:59px;height:17px">...لاستيك و [+]</div>
<div class="G x4" style="left:1302px;top:433px;width:26px;height:29px">پاسا</div>
<div class="G x4" style="left:1328px;top:433px;width:33px;height:29px">پتاير</div>
<div class="G x4" style="left:1302px;top:462px;width:26px;height:28px">...پيك</div>
<div class="D" style="left:1328px;top:462px;width:33px;height:12px"></div><div class="K" style="left:1328px;top:474px;width:10px;height:16px"></div><div class="E" style="left:1338px;top:474px;width:12px;height:8px"></div><div class="G" style="left:1350px;top:474px;width:11px;height:8px"></div><div class="D" style="left:1338px;top:482px;width:12px;height:8px"></div><div class="D" style="left:1350px;top:482px;width:11px;height:8px"></div>
<div class="h" style="left:1302px;top:492px;width:59px;height:16px">...ماشين آلا [+]</div>
<div class="D x4" style="left:1302px;top:508px;width:37px;height:55px">بترانس</div>
<div class="R" style="left:1339px;top:508px;width:22px;height:12px"></div><div class="D" style="left:1339px;top:520px;width:22px;height:12px"></div><div class="R" style="left:1339px;top:532px;width:22px;height:14px"></div><div class="R" style="left:1339px;top:546px;width:22px;height:17px"></div>

<div class="h" style="left:1363px;top:338px;width:62px;height:17px">...خدمات فن [+]</div>
<div class="M x4" style="left:1363px;top:355px;width:49px;height:48px">كيسون</div>
<div class="D x4" style="left:1412px;top:355px;width:13px;height:45px">...ر</div>
<div class="E" style="left:1412px;top:400px;width:13px;height:3px"></div>
<div class="h" style="left:1427px;top:338px;width:63px;height:17px">...استخراج ن [+]</div>
<div class="G x5" style="left:1427px;top:355px;width:63px;height:48px">كسرام<br>2.88%</div>
<div class="h" style="left:1492px;top:338px;width:61px;height:17px">... كاشي و [+]</div>
<div class="M x4" style="left:1492px;top:355px;width:38px;height:22px">كپارس</div>
<div class="R x4" style="left:1492px;top:377px;width:38px;height:26px">كحافظ</div>
<div class="D" style="left:1530px;top:355px;width:23px;height:20px"></div><div class="E" style="left:1530px;top:375px;width:10px;height:28px"></div><div class="G" style="left:1540px;top:375px;width:13px;height:28px"></div>

<div class="h" style="left:1363px;top:405px;width:72px;height:16px">قند و شكر [+]</div>
<div class="M x4" style="left:1363px;top:421px;width:23px;height:36px">...ن</div>
<div class="G x4" style="left:1386px;top:421px;width:21px;height:20px">...ق</div>
<div class="G" style="left:1407px;top:421px;width:18px;height:18px"></div><div class="G" style="left:1425px;top:421px;width:10px;height:18px"></div><div class="G" style="left:1386px;top:441px;width:21px;height:16px"></div><div class="D" style="left:1407px;top:439px;width:18px;height:10px"></div><div class="D" style="left:1407px;top:449px;width:8px;height:8px"></div><div class="G" style="left:1415px;top:449px;width:10px;height:8px"></div><div class="R" style="left:1425px;top:439px;width:10px;height:10px"></div><div class="D" style="left:1425px;top:449px;width:10px;height:8px"></div>
<div class="h" style="left:1437px;top:405px;width:59px;height:16px">...هتل و ر [+]</div>
<div class="G x4" style="left:1437px;top:421px;width:34px;height:36px">سمگا</div>
<div class="E x4" style="left:1471px;top:421px;width:25px;height:22px">گدنا</div>
<div class="G" style="left:1471px;top:443px;width:15px;height:14px"></div><div class="K" style="left:1486px;top:443px;width:10px;height:14px"></div>
<div class="h" style="left:1497px;top:405px;width:56px;height:16px">منسوجات [+]</div>
<div class="R x4" style="left:1497px;top:421px;width:31px;height:36px">...صح</div>
<div class="K x4" style="left:1528px;top:421px;width:25px;height:26px">...ن</div>
<div class="E" style="left:1528px;top:447px;width:9px;height:10px"></div><div class="D" style="left:1537px;top:447px;width:8px;height:10px"></div><div class="E" style="left:1545px;top:447px;width:8px;height:10px"></div>

<div class="h" style="left:1363px;top:459px;width:72px;height:16px">... ساير واسطه [+]</div>
<div class="G x4" style="left:1363px;top:475px;width:25px;height:18px">...دل</div>
<div class="G" style="left:1388px;top:475px;width:25px;height:18px"></div><div class="G" style="left:1413px;top:475px;width:22px;height:18px"></div><div class="R" style="left:1363px;top:493px;width:25px;height:18px"></div><div class="G" style="left:1388px;top:493px;width:25px;height:18px"></div><div class="G" style="left:1413px;top:493px;width:22px;height:9px"></div><div class="D" style="left:1413px;top:502px;width:8px;height:9px"></div><div class="G" style="left:1421px;top:502px;width:7px;height:9px"></div><div class="D" style="left:1428px;top:502px;width:7px;height:9px"></div>
<div class="h" style="left:1437px;top:459px;width:45px;height:16px">... خرده [+]</div>
<div class="G x4" style="left:1437px;top:475px;width:45px;height:36px">افق</div>
<div class="h" style="left:1484px;top:459px;width:33px;height:16px">...م [+]</div>
<div class="R x4" style="left:1484px;top:475px;width:33px;height:18px">چكاپا</div>
<div class="G" style="left:1484px;top:493px;width:14px;height:18px"></div><div class="R" style="left:1498px;top:493px;width:12px;height:18px"></div><div class="G" style="left:1510px;top:493px;width:7px;height:18px"></div>
<div class="h" style="left:1518px;top:459px;width:35px;height:16px">...ا [+]</div>
<div class="K" style="left:1518px;top:475px;width:35px;height:15px"></div>
<div class="D x4" style="left:1518px;top:490px;width:20px;height:21px">ه...</div>
<div class="D" style="left:1538px;top:490px;width:15px;height:10px"></div><div class="E" style="left:1538px;top:500px;width:8px;height:11px"></div><div class="R" style="left:1546px;top:500px;width:7px;height:11px"></div>

<div class="h" style="left:1363px;top:513px;width:72px;height:15px">...ماشين آلات و [+]</div>
<div class="K x4" style="left:1363px;top:528px;width:20px;height:35px">...ا</div>
<div class="G" style="left:1383px;top:528px;width:20px;height:17px"></div><div class="G" style="left:1403px;top:528px;width:18px;height:17px"></div><div class="K" style="left:1421px;top:528px;width:14px;height:17px"></div>
<div class="K" style="left:1383px;top:545px;width:10px;height:18px"></div><div class="G" style="left:1393px;top:545px;width:10px;height:9px"></div><div class="D" style="left:1393px;top:554px;width:10px;height:9px"></div><div class="G" style="left:1403px;top:545px;width:18px;height:9px"></div><div class="E" style="left:1403px;top:554px;width:18px;height:9px"></div><div class="D" style="left:1421px;top:545px;width:14px;height:9px"></div><div class="K" style="left:1421px;top:554px;width:14px;height:9px"></div>
<div class="h" style="left:1437px;top:513px;width:45px;height:15px">مخابرات [+]</div>
<div class="K x4" style="left:1437px;top:528px;width:35px;height:35px">اخابر</div>
<div class="E" style="left:1472px;top:528px;width:10px;height:35px"></div>
<div class="h" style="left:1484px;top:513px;width:26px;height:15px">...ا [+]</div>
<div class="G" style="left:1484px;top:528px;width:13px;height:14px"></div><div class="P" style="left:1497px;top:528px;width:13px;height:6px"></div><div class="D" style="left:1497px;top:534px;width:13px;height:8px"></div>
<div class="h" style="left:1510px;top:513px;width:23px;height:15px">[+]...</div>
<div class="K" style="left:1510px;top:528px;width:23px;height:14px"></div>
<div class="h" style="left:1533px;top:513px;width:20px;height:15px">[...</div>
<div class="R" style="left:1533px;top:528px;width:20px;height:14px"></div>
<div class="h" style="left:1484px;top:543px;width:26px;height:12px">...ا [+]</div>
<div class="E" style="left:1484px;top:555px;width:26px;height:8px"></div>
<div class="h" style="left:1510px;top:543px;width:23px;height:12px">[...</div>
<div class="D" style="left:1510px;top:555px;width:23px;height:8px"></div>
<div class="h" style="left:1533px;top:543px;width:20px;height:20px"></div>

<div id="wm">
<span style="left:30px;top:2px;font-size:34px;letter-spacing:8px">ايبنا</span>
<span style="left:30px;top:48px;font-size:24px">رسانه بانک مرکزی</span>
<span style="left:28px;top:84px;width:192px;height:3px;background:rgba(255,255,255,0.3)"></span>
<span style="left:30px;top:88px;font-size:38px;letter-spacing:7px;font-family:'DejaVu Sans',sans-serif">ibena.ir</span>
<svg style="position:absolute;left:200px;top:4px" width="110" height="150" viewBox="0 0 110 150">
<g fill="none" stroke="rgba(255,255,255,0.3)" stroke-width="9">
<circle cx="60" cy="70" r="18"/>
<path d="M30 100 A40 40 0 0 1 60 30 A40 40 0 0 1 95 55"/>
<path d="M15 115 A60 60 0 0 1 60 10 A60 60 0 0 1 108 40"/>
</g>
<rect x="52" y="95" width="16" height="55" fill="rgba(255,255,255,0.3)"/>
</svg>
</div>
</div></body></html>
